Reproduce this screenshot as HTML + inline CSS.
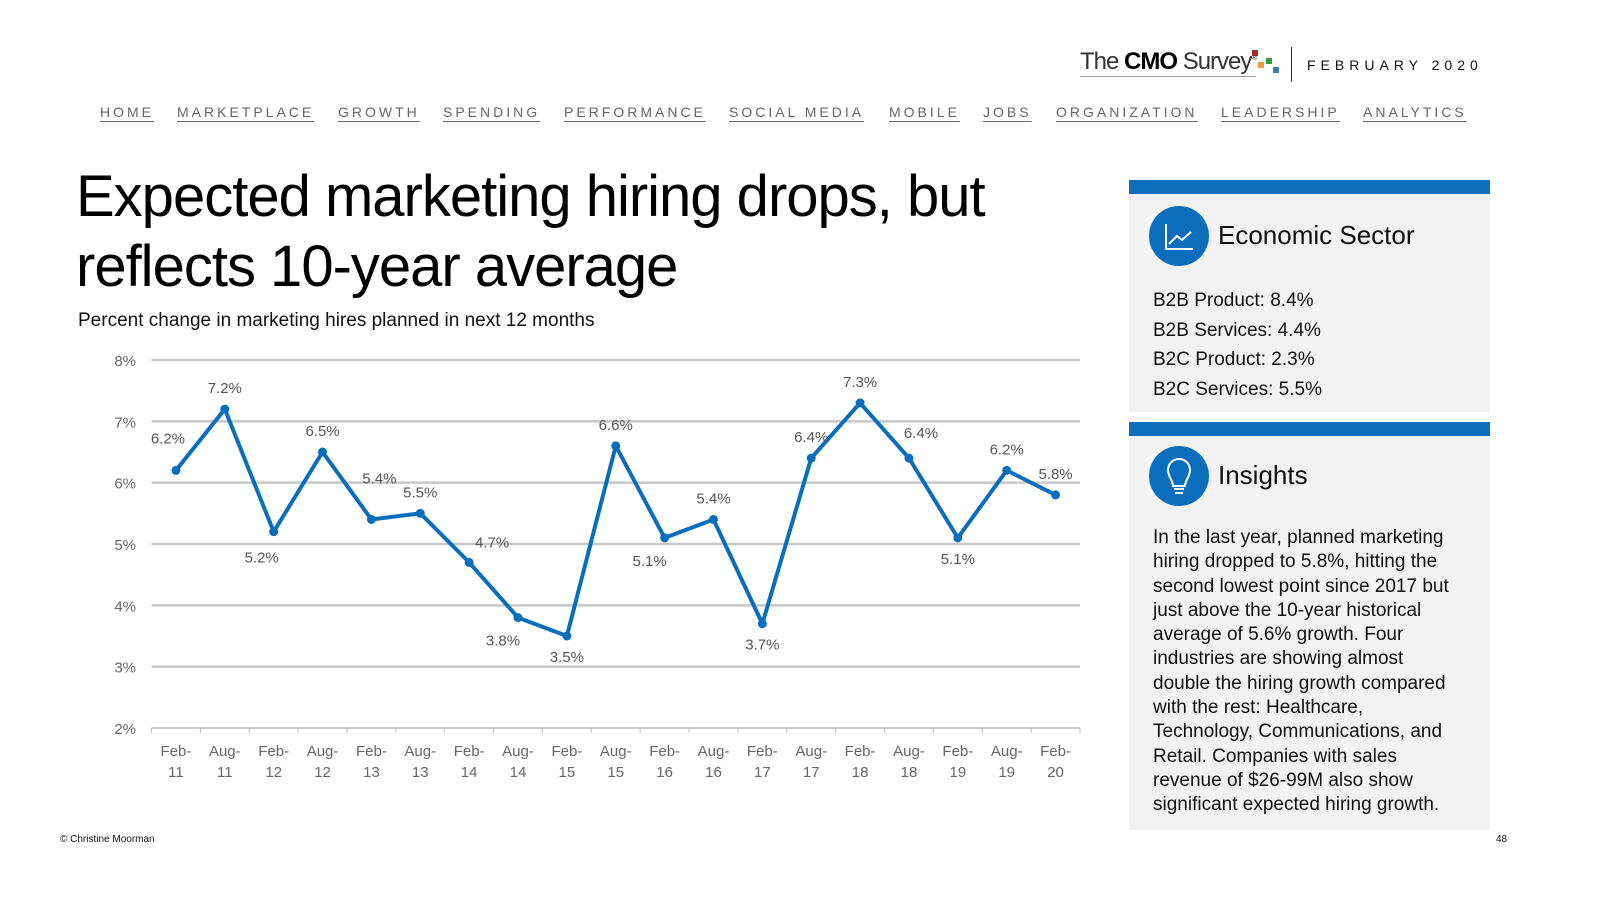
<!DOCTYPE html>
<html><head><meta charset="utf-8">
<style>
body{margin:0;width:1600px;height:900px;background:#fff;font-family:"Liberation Sans",sans-serif;position:relative;overflow:hidden;color:#111}
.abs{position:absolute}
.nav a{position:absolute;top:104px;font-size:14px;letter-spacing:3px;color:#666;text-decoration:underline;text-underline-offset:4px}
.panel{position:absolute;left:1129px;width:361px;background:#f2f2f2;border-top:14px solid #0a6ebd}
.circ{position:absolute;left:20px;width:60px;height:60px;border-radius:50%;background:#0a6ebd}
</style></head><body>
<div class="abs" style="left:1080px;top:48px;font-size:24px;letter-spacing:-1px;color:#333;border-bottom:1px solid #999">The <b style="color:#000">CMO</b> Survey<sup style="font-size:8px">®</sup></div>
<div class="abs" style="left:1252px;top:50px;width:6px;height:6px;background:#a52a2a"></div>
<div class="abs" style="left:1258px;top:62px;width:6px;height:6px;background:#e89a3c"></div>
<div class="abs" style="left:1266px;top:58px;width:6px;height:6px;background:#3a9a4a"></div>
<div class="abs" style="left:1273px;top:67px;width:6px;height:6px;background:#3a7ac0"></div>
<div class="abs" style="left:1291px;top:47px;width:1px;height:35px;background:#333"></div>
<div class="abs" style="left:1307px;top:57px;font-size:14px;letter-spacing:5px">FEBRUARY 2020</div>
<div class="nav">
<a style="left:100px">HOME</a>
<a style="left:177px">MARKETPLACE</a>
<a style="left:338px">GROWTH</a>
<a style="left:443px">SPENDING</a>
<a style="left:564px">PERFORMANCE</a>
<a style="left:729px">SOCIAL MEDIA</a>
<a style="left:889px">MOBILE</a>
<a style="left:983px">JOBS</a>
<a style="left:1056px">ORGANIZATION</a>
<a style="left:1221px">LEADERSHIP</a>
<a style="left:1363px">ANALYTICS</a>
</div>
<div class="abs" style="left:76px;top:162px;font-size:58px;line-height:70px;letter-spacing:-1px;color:#000">Expected marketing hiring drops, but<br>reflects 10-year average</div>
<div class="abs" style="left:78px;top:310px;font-size:19px">Percent change in marketing hires planned in next 12 months</div>
<svg class="abs" style="left:0;top:0" width="1100" height="800" id="chart"></svg>
<div class="panel" style="top:180px;height:218px">
<div class="circ" style="top:12px"><svg width="60" height="60"><path d="M17 18V43H44" stroke="#fff" stroke-width="2" fill="none"/><path d="M20 38L28 30L33 34L42 26" stroke="#fff" stroke-width="2" fill="none"/></svg></div>
<div class="abs" style="left:89px;top:26px;font-size:26px">Economic Sector</div>
<div class="abs" style="left:24px;top:92px;font-size:19px;line-height:29.5px">B2B Product: 8.4%<br>B2B Services: 4.4%<br>B2C Product: 2.3%<br>B2C Services: 5.5%</div>
</div>
<div class="panel" style="top:422px;height:394px">
<div class="circ" style="top:10px"><svg width="60" height="60"><path d="M24 40C24 34 19 31 19 24A11 11 0 0 1 41 24C41 31 36 34 36 40Z M25 43H35M26 47H34" stroke="#fff" stroke-width="2" fill="none"/></svg></div>
<div class="abs" style="left:89px;top:24px;font-size:26px">Insights</div>
<div class="abs" style="left:24px;top:90px;width:306px;font-size:19px;line-height:24.3px">In the last year, planned marketing hiring dropped to 5.8%, hitting the second lowest point since 2017 but just above the 10-year historical average of 5.6% growth. Four industries are showing almost double the hiring growth compared with the rest: Healthcare, Technology, Communications, and Retail. Companies with sales revenue of $26-99M also show significant expected hiring growth.</div>
</div>
<div class="abs" style="left:60px;top:834px;font-size:10px">© Christine Moorman</div>
<div class="abs" style="left:1496px;top:834px;font-size:10px">48</div>
<script>
const categories=["Feb-11","Aug-11","Feb-12","Aug-12","Feb-13","Aug-13","Feb-14","Aug-14","Feb-15","Aug-15","Feb-16","Aug-16","Feb-17","Aug-17","Feb-18","Aug-18","Feb-19","Aug-19","Feb-20"];
const values=[6.2,7.2,5.2,6.5,5.4,5.5,4.7,3.8,3.5,6.6,5.1,5.4,3.7,6.4,7.3,6.4,5.1,6.2,5.8];
const yTicks=[2,3,4,5,6,7,8];
const labelPos=["ul","u","dr","u","ur","u","r","dl","d","u","dl","u","d","u","u","r2","d","u","u"];
const NS="http://www.w3.org/2000/svg";
const svg=document.getElementById('chart');
const L=151.5,R=1080,T=360,B=728,ymin=2,ymax=8;
const bw=(R-L)/categories.length;
const x=i=>L+bw*(i+0.5);
const y=v=>B-(v-ymin)/(ymax-ymin)*(B-T);
function mk(t,a,txt){const e=document.createElementNS(NS,t);for(const k in a)e.setAttribute(k,a[k]);if(txt!=null)e.textContent=txt;svg.appendChild(e);return e;}
yTicks.forEach(v=>{
 const g=mk('line',{x1:L,x2:R,y1:y(v),y2:y(v),stroke:v===ymin?'#bbb':'#c8c8c8','stroke-width':v===ymin?1.5:2.5});
 
 
 const t=mk('text',{x:136,y:y(v)+6,'text-anchor':'end','font-size':15,fill:'#666'},v+'%');
 
 
});
for(let i=0;i<=categories.length;i++){mk('line',{x1:L+bw*i,x2:L+bw*i,y1:B,y2:B+5,stroke:'#bbb'});}
categories.forEach((c,i)=>{
 const p=c.split('-');
 const t=mk('text',{x:x(i),y:756,'text-anchor':'middle','font-size':15,fill:'#666'});
 
 
 const a=document.createElementNS(NS,'tspan');a.setAttribute('x',x(i));a.textContent=p[0]+'-';t.appendChild(a);
 const b=document.createElementNS(NS,'tspan');b.setAttribute('x',x(i));b.setAttribute('dy',21);b.textContent=p[1];t.appendChild(b);
});
const line=mk('polyline',{points:values.map((v,i)=>x(i)+','+y(v)).join(' '),fill:'none',stroke:'#0a6ebd','stroke-width':4,'stroke-linejoin':'round'});


values.forEach((v,i)=>{
 const c=mk('circle',{cx:x(i),cy:y(v),r:4.5,fill:'#0a6ebd'});
 
 
 const p=labelPos[i];let dx=0,dy=-16;
 if(p==='d'){dy=26;} if(p==='ul'){dx=-8;dy=-27;} if(p==='ur'){dx=8;dy=-36;} if(p==='dl'){dx=-15;dy=28;} if(p==='dr'){dx=-12;dy=31;}
 if(p==='r'){dx=23;dy=-15;} if(p==='r2'){dx=12;dy=-20;}
 const t=mk('text',{x:x(i)+dx,y:y(v)+dy,'text-anchor':'middle','font-size':15,fill:'#555'},v.toFixed(1)+'%');
 
 
});
</script>
</body></html>
